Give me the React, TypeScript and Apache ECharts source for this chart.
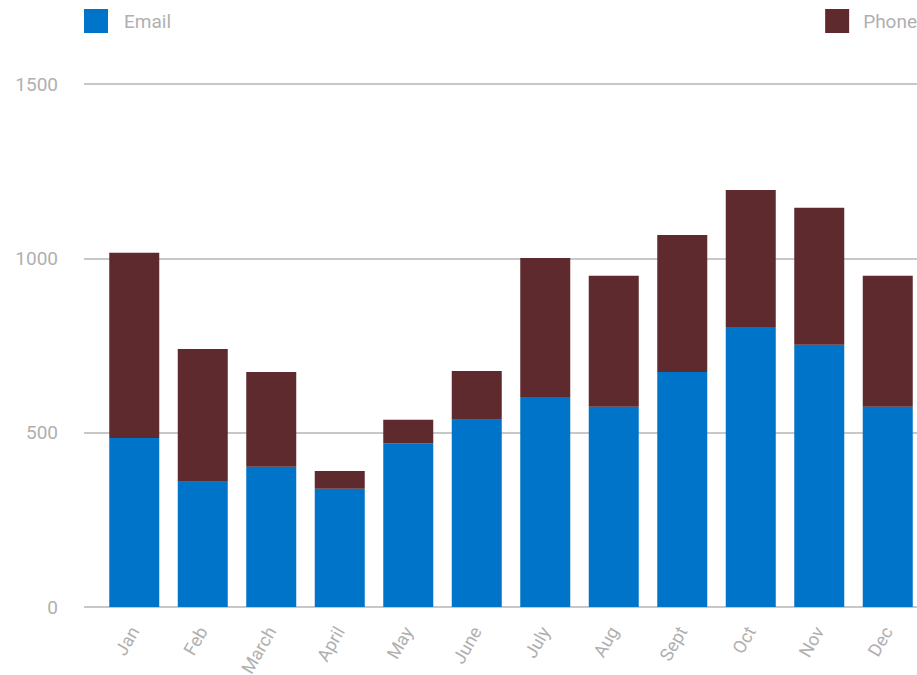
import React, { useEffect, useRef } from "react";
import * as echarts from "echarts";

const categories = ["Jan", "Feb", "March", "April", "May", "June", "July", "Aug", "Sept", "Oct", "Nov", "Dec"];
const emailValues = [485, 359, 402, 339, 470, 537, 602, 574, 674, 803, 752, 574];
const phoneValues = [531, 381, 272, 51, 67, 140, 399, 376, 393, 393, 393, 376];
const yTicks = { min: 0, max: 1500, interval: 500 };

const FONT = "Roboto, 'DejaVu Sans', sans-serif";
const GRAY = "#b0b0b0";

export default function App() {
  const ref = useRef<HTMLDivElement>(null);
  useEffect(() => {
    if (!ref.current) return;
    const chart = echarts.init(ref.current, undefined, { renderer: "svg" });
    const legendText = { color: GRAY, fontSize: 19, fontFamily: FONT, padding: [0, 0, 0, 11] };
    chart.setOption({
      animation: false,
      textStyle: { fontFamily: FONT },
      legend: [
        {
          data: ["Email"],
          left: 84,
          top: 9,
          icon: "rect",
          itemWidth: 24,
          itemHeight: 24,
          textStyle: legendText,
          padding: 0,
        },
        {
          data: ["Phone"],
          right: 0,
          top: 9,
          icon: "rect",
          itemWidth: 24,
          itemHeight: 24,
          textStyle: { ...legendText, padding: [0, 0, 0, 9] },
          padding: 0,
        },
      ],
      grid: [
        { left: 84, right: 0, top: 84, bottom: 68, containLabel: false, outerBoundsMode: "none" },
        { left: 100, width: 822, top: 84, bottom: 68, containLabel: false, outerBoundsMode: "none" },
      ],
      xAxis: [
        { type: "value", gridIndex: 0, show: false, min: 0, max: 1 },
        {
          type: "category",
          gridIndex: 1,
          data: categories,
          axisLine: { show: false },
          axisTick: { show: false },
          axisLabel: { rotate: 60, color: GRAY, fontSize: 18, fontFamily: FONT, margin: 21 },
        },
      ],
      yAxis: [
        {
          type: "value",
          gridIndex: 0,
          min: yTicks.min,
          max: yTicks.max,
          interval: yTicks.interval,
          axisLine: { show: false },
          axisTick: { show: false },
          axisLabel: { color: GRAY, fontSize: 19, fontFamily: FONT, margin: 26, formatter: (v: number) => String(v) },
          splitLine: { lineStyle: { color: "#c8c8c8", width: 2 } },
        },
        {
          type: "value",
          gridIndex: 1,
          min: yTicks.min,
          max: yTicks.max,
          interval: yTicks.interval,
          show: false,
          splitLine: { show: false },
        },
      ],
      series: [
        {
          name: "Email",
          type: "bar",
          stack: "total",
          xAxisIndex: 1,
          yAxisIndex: 1,
          data: emailValues,
          barWidth: 50,
          itemStyle: { color: "#0074c9" },
        },
        {
          name: "Phone",
          type: "bar",
          stack: "total",
          xAxisIndex: 1,
          yAxisIndex: 1,
          data: phoneValues,
          barWidth: 50,
          itemStyle: { color: "#5e2a2e" },
        },
      ],
    });
    return () => chart.dispose();
  }, []);
  return <div ref={ref} style={{ width: 917, height: 675, position: "absolute", left: 0, top: 0 }} />;
}
